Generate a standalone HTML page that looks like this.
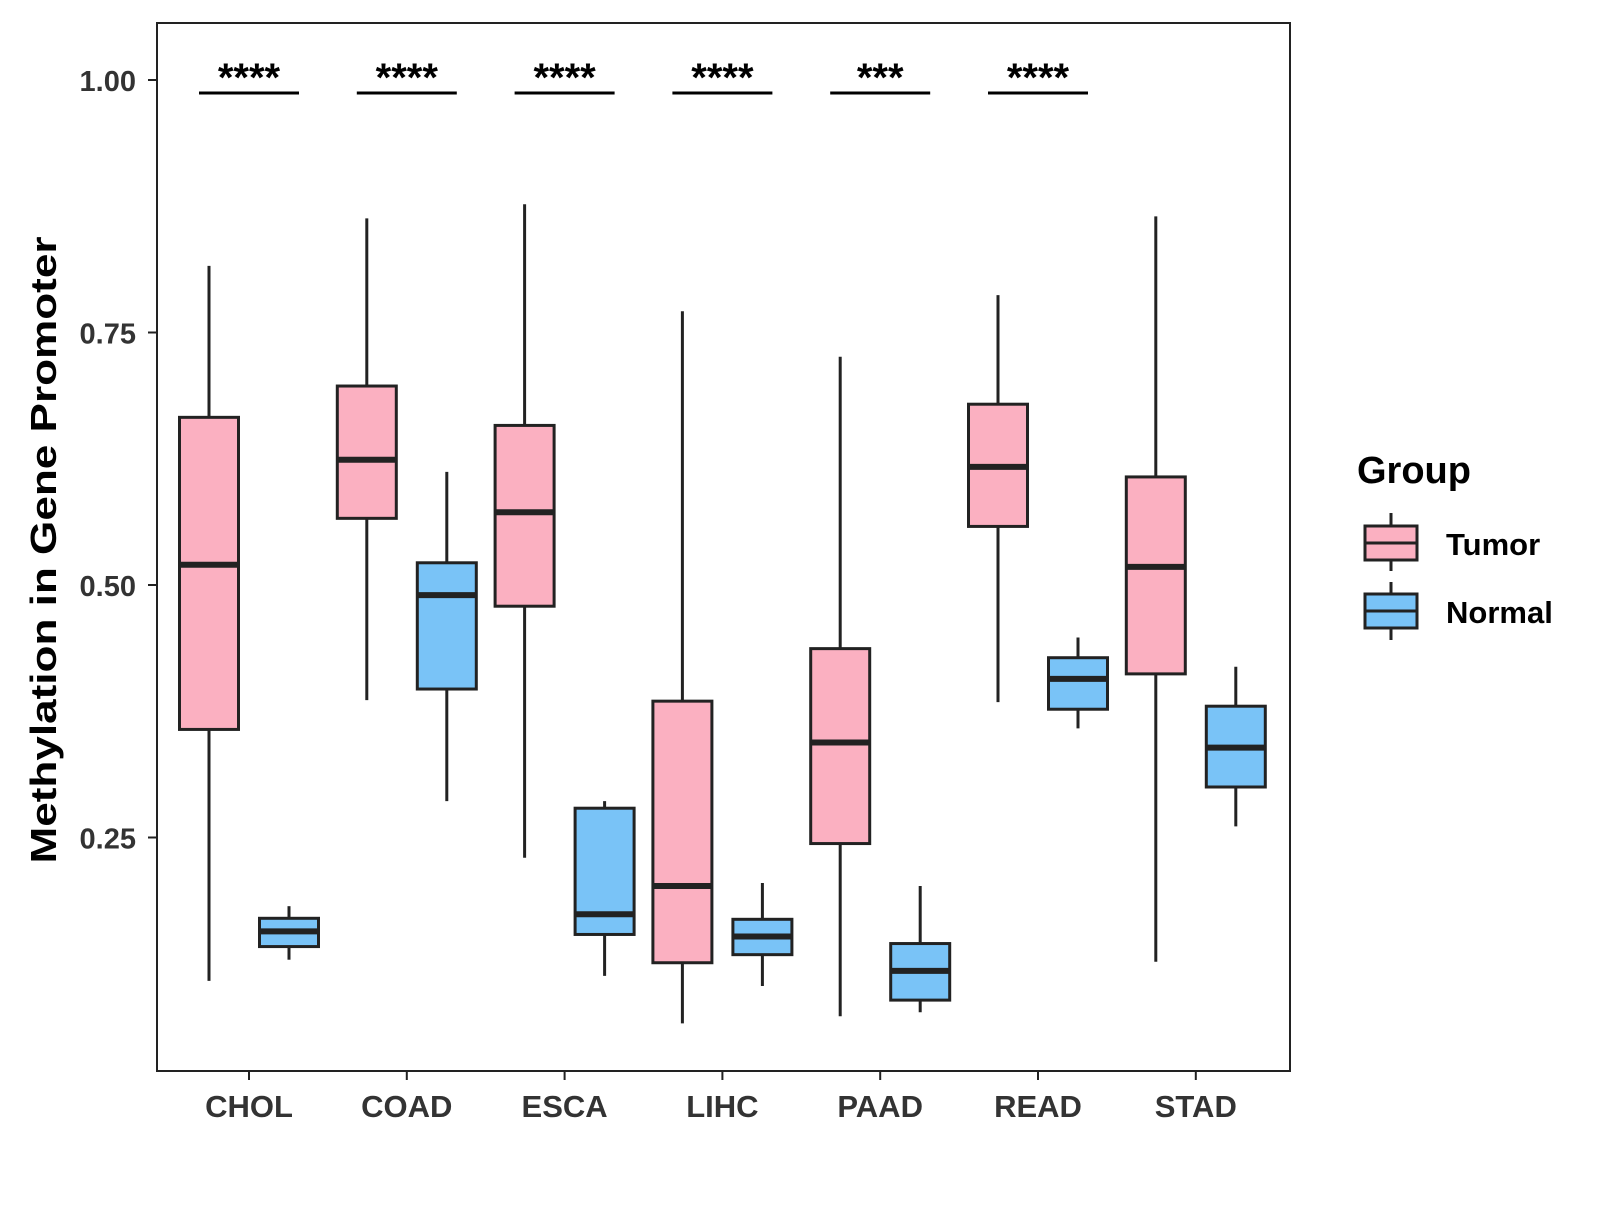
<!DOCTYPE html>
<html><head><meta charset="utf-8"><style>
html,body{margin:0;padding:0;background:#fff}
svg text{font-family:"Liberation Sans",Arial,sans-serif;font-weight:bold}
</style></head><body>
<svg id="chart" width="1600" height="1200" xmlns="http://www.w3.org/2000/svg">
<rect x="157" y="23" width="1133" height="1048" fill="#fff" stroke="#222" stroke-width="2"/>
<g id="marks"></g>
<text transform="translate(56,550) rotate(-90)" text-anchor="middle" font-size="36" textLength="627" lengthAdjust="spacingAndGlyphs" fill="#000">Methylation in Gene Promoter</text>
<g>
<text x="1357" y="483" font-size="38" fill="#000">Group</text>
<line x1="1391" y1="513" x2="1391" y2="571" stroke="#222" stroke-width="3"/>
<rect x="1365" y="526" width="52" height="34" fill="#FBB0C1" stroke="#222" stroke-width="3"/>
<line x1="1365" y1="543" x2="1417" y2="543" stroke="#222" stroke-width="3"/>
<text x="1446" y="555" font-size="31" fill="#000">Tumor</text>
<line x1="1391" y1="582" x2="1391" y2="640" stroke="#222" stroke-width="3"/>
<rect x="1365" y="594" width="52" height="34" fill="#79C3F7" stroke="#222" stroke-width="3"/>
<line x1="1365" y1="611" x2="1417" y2="611" stroke="#222" stroke-width="3"/>
<text x="1446" y="623" font-size="31" fill="#000">Normal</text>
</g>
</svg>
<script>
const categories=["CHOL","COAD","ESCA","LIHC","PAAD","READ","STAD"];
// [low, q1, median, q3, high]
const tumorStats=[[0.108,0.357,0.520,0.666,0.816],[0.386,0.566,0.624,0.697,0.863],[0.230,0.479,0.572,0.658,0.877],[0.066,0.126,0.202,0.385,0.771],[0.073,0.244,0.344,0.437,0.726],[0.384,0.558,0.617,0.679,0.787],[0.127,0.412,0.518,0.607,0.865]];
const normalStats=[[0.129,0.142,0.157,0.170,0.182],[0.286,0.397,0.490,0.522,0.612],[0.113,0.154,0.174,0.279,0.286],[0.103,0.134,0.152,0.169,0.205],[0.077,0.089,0.118,0.145,0.202],[0.358,0.377,0.407,0.428,0.448],[0.261,0.300,0.339,0.380,0.419]];
const signif=["****","****","****","****","***","****",""];
const yTicks=[0.25,0.5,0.75,1.0];
const yTickLabels=["0.25","0.50","0.75","1.00"];
const NS="http://www.w3.org/2000/svg";
const g=document.getElementById("marks");
const yS=v=>80+(1-v)*1010;
const xS=i=>249+i*157.8;
function mk(tag,attrs,parent){const e=document.createElementNS(NS,tag);for(const k in attrs)e.setAttribute(k,attrs[k]);(parent||g).appendChild(e);return e;}
yTicks.forEach((t,i)=>{
 const l=mk("line",{x1:148,x2:157,y1:yS(t),y2:yS(t),stroke:"#222","stroke-width":2});
 
 
 const tx=mk("text",{x:136,y:yS(t)+11,"text-anchor":"end","font-size":29,fill:"#333"});
 tx.textContent=yTickLabels[i];
 
 
});
categories.forEach((c,i)=>{
 const x=xS(i);
 const l=mk("line",{x1:x,x2:x,y1:1071,y2:1080,stroke:"#222","stroke-width":2});
 
 
 const tx=mk("text",{x:x,y:1117,"text-anchor":"middle","font-size":31,fill:"#333"});
 tx.textContent=c;
 
 
 [[tumorStats[i],-40,"#FBB0C1","tumor"],[normalStats[i],40,"#79C3F7","normal"]].forEach(([s,off,fill,nm])=>{
  const cx=x+off, w=59;
  const grp=mk("g",{});
  
  
  mk("line",{x1:cx,x2:cx,y1:yS(s[4]),y2:yS(s[0]),stroke:"#222","stroke-width":3},grp);
  mk("rect",{x:cx-w/2,y:yS(s[3]),width:w,height:yS(s[1])-yS(s[3]),fill:fill,stroke:"#222","stroke-width":3},grp);
  mk("line",{x1:cx-w/2,x2:cx+w/2,y1:yS(s[2]),y2:yS(s[2]),stroke:"#222","stroke-width":6},grp);
 });
 if(signif[i]){
  const sl=mk("line",{x1:x-50,x2:x+50,y1:93,y2:93,stroke:"#000","stroke-width":3});
  
  
  const st=mk("text",{x:x,y:91,"text-anchor":"middle","font-size":40,fill:"#000"});
  st.textContent=signif[i];
  
  
 }
});
</script>
</body></html>
